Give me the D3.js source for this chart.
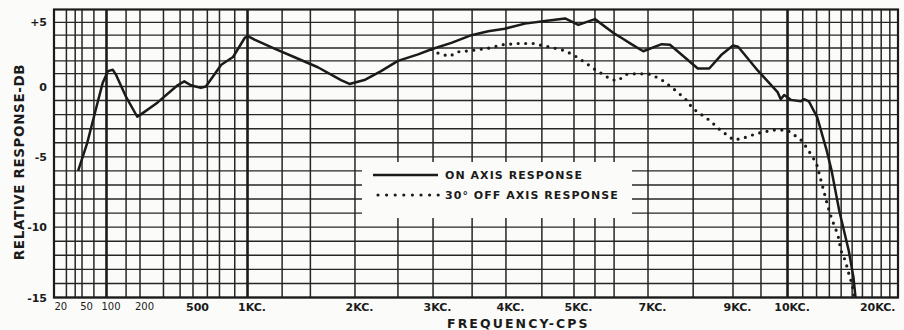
<!DOCTYPE html>
<html>
<head>
<meta charset="utf-8">
<script src="https://cdn.jsdelivr.net/npm/d3@7"></script>
<style>
  html, body { margin: 0; padding: 0; background: #fbfbf9; }
  svg { display: block; }
  text { font-family: "DejaVu Sans", "Liberation Sans", sans-serif; fill: #1b1b1b; }
</style>
</head>
<body>
<svg id="chart" width="904" height="330"></svg>
<script>
// ---- Response data (frequency in Hz, level in dB) ----
const onAxisFreq = [44, 58, 78, 90, 103, 114, 122, 149, 189, 202, 270, 383, 430, 482, 552, 589,
  716, 832, 966, 1005, 1046, 1190, 1350, 1574, 1828, 1930, 2100, 2290, 2500, 2776, 2976,
  3225, 3490, 3730, 3980, 4257, 4546, 4856, 5100, 5500, 6020, 6200, 6490, 6850, 7290, 7470,
  8110, 8390, 8690, 9000, 9090, 9440, 9810, 9870, 9935, 10210, 10870, 11100, 11430, 12050,
  12800, 13190, 13840, 14690, 15130, 15320];
const onAxisDb = [-6.0, -4.0, -1.1, 0.3, 1.2, 1.3, 0.9, -0.7, -2.15, -2.0, -1.15, 0.1, 0.4, 0.1, -0.1, 0.0,
  1.7, 2.3, 3.8, 3.9, 3.65, 2.95, 2.3, 1.5, 0.5, 0.2, 0.5, 1.2, 2.0, 2.5, 2.9,
  3.4, 4.0, 4.3, 4.5, 4.9, 5.1, 5.3, 4.8, 5.25, 4.1, 3.8, 3.3, 2.75, 3.3, 3.25,
  1.4, 1.4, 2.45, 3.2, 3.1, 1.25, -0.4, -0.9, -0.6, -0.95, -1.05, -0.9, -1.05, -2.2,
  -4.6, -6.0, -8.85, -11.7, -13.6, -15.0];

const offAxisFreq = [2976, 3060, 3200, 3310, 3490, 3750, 3930, 4160, 4375, 4495, 4640, 4850,
  5015, 5245, 5490, 5700, 5915, 6100, 6340, 6690, 7065, 7340, 7620, 7840, 7985, 8395, 8670,
  9010, 9155, 9420, 9720, 9990, 10380, 10930, 11175, 11400, 11640, 12000, 12370, 12620,
  12870, 13210, 13540, 13810, 13950, 14380, 14670, 14910, 15120, 15200];
const offAxisDb = [2.9, 2.6, 2.35, 2.7, 2.8, 3.0, 3.25, 3.35, 3.35, 3.2, 3.05, 2.8,
  2.4, 1.9, 1.35, 0.95, 0.55, 0.45, 0.95, 1.0, 0.95, 0.4, -0.35, -0.95, -1.55, -2.4, -3.1,
  -3.8, -3.7, -3.35, -3.1, -3.1, -3.4, -3.85, -4.2, -4.55, -4.9, -5.5, -6.8, -7.65,
  -8.5, -9.45, -10.15, -10.85, -11.6, -12.4, -13.25, -13.85, -14.55, -15.0];

// ---- Axis labels ----
const tickFreqs = [20, 50, 100, 200, 500, 1000, 2000, 3000, 4000, 5000, 7000, 9000, 10000, 20000];
const tickLabels = ["20", "50", "100", "200", "500", "1KC.", "2KC.", "3KC.", "4KC.", "5KC.",
  "7KC.", "9KC.", "10KC.", "20KC."];
const lightTicks = ["20", "50", "100", "200"];
const dbTicks = [5, 0, -5, -10, -15];
const dbTickLabels = ["+5", "0", "-5", "-10", "-15"];
const legendLabels = ["ON AXIS RESPONSE", "30° OFF AXIS RESPONSE"];
const xTitle = "FREQUENCY-CPS";
const yTitle = "RELATIVE RESPONSE-DB";

// ---- Chart paper rulings ----
const majorRulings = [100, 1000, 10000];
const minorRulings = [30, 40, 50, 70, 150, 200, 300, 400, 500, 600, 700, 850,
  1250, 1500, 2000, 2500, 3000, 3500, 4000, 4500, 5000, 5500, 6000, 7000, 8000, 9000, 9500,
  11000, 12000, 13000, 14000, 15000, 16000, 17000, 18000, 19000];
// The printed frequency paper is not a uniform log scale: each labelled
// frequency sits at its own fraction of the plot width.
const paperFreq = [20, 50, 100, 200, 500, 1000, 2000, 3000, 4000, 5000, 7000, 9000, 10000, 20000];
const paperFrac = [0, 0.0332, 0.0622, 0.1019, 0.1647, 0.2293, 0.3566, 0.4491, 0.5355, 0.6161,
  0.7038, 0.8045, 0.8691, 1];

const plot = { left: 54, right: 898, top: 9.5, bottom: 297.5 };
const pw = plot.right - plot.left;

const xLog = d3.scaleLinear()
  .domain(paperFreq.map(Math.log10))
  .range(paperFrac.map(f => plot.left + f * pw));
const x = f => xLog(Math.log10(f));
// dB paper: slightly tighter spacing above 0 dB
const y = d3.scaleLinear().domain([-15, 0, 6]).range([plot.bottom, 86.5, plot.top]);

const svg = d3.select("#chart");
const ink = "#1b1b1b";

// horizontal rulings, one per dB
svg.append("g").selectAll("line")
  .data(d3.range(-15, 6))
  .join("line")
  .attr("x1", plot.left).attr("x2", plot.right)
  .attr("y1", d => y(d)).attr("y2", d => y(d))
  .attr("stroke", "#262626").attr("stroke-width", 1.4);

// vertical rulings
svg.append("g").selectAll("line")
  .data(minorRulings)
  .join("line")
  .attr("x1", d => x(d)).attr("x2", d => x(d))
  .attr("y1", plot.top).attr("y2", plot.bottom)
  .attr("stroke", "#262626").attr("stroke-width", 1.5);

svg.append("g").selectAll("line")
  .data(majorRulings)
  .join("line")
  .attr("x1", d => x(d)).attr("x2", d => x(d))
  .attr("y1", plot.top).attr("y2", plot.bottom)
  .attr("stroke", ink).attr("stroke-width", 2.6);

// blank panel behind the legend
const legendBox = { x: 362, y: 162, w: 270, h: 56 };
svg.append("rect")
  .attr("x", legendBox.x).attr("y", legendBox.y)
  .attr("width", legendBox.w).attr("height", legendBox.h)
  .attr("fill", "#fbfbf9");

// frame
svg.append("rect")
  .attr("x", plot.left).attr("y", plot.top)
  .attr("width", pw).attr("height", plot.bottom - plot.top)
  .attr("fill", "none").attr("stroke", ink).attr("stroke-width", 2.2);

// response curves
const line = d3.line().x(d => x(d[0])).y(d => y(d[1]));
const onAxis = onAxisFreq.map((f, i) => [f, onAxisDb[i]]);
const offAxis = offAxisFreq.map((f, i) => [f, offAxisDb[i]]);

svg.append("path")
  .datum(offAxis)
  .attr("d", line)
  .attr("fill", "none").attr("stroke", ink)
  .attr("stroke-width", 3.2).attr("stroke-linecap", "round")
  .attr("stroke-dasharray", "0 7.5");

svg.append("path")
  .datum(onAxis)
  .attr("d", line)
  .attr("fill", "none").attr("stroke", ink)
  .attr("stroke-width", 2.5).attr("stroke-linejoin", "round");

// legend
const lg = svg.append("g");
lg.append("line").attr("x1", 373).attr("x2", 438).attr("y1", 175).attr("y2", 175)
  .attr("stroke", ink).attr("stroke-width", 2.6);
lg.append("line").attr("x1", 378).attr("x2", 439).attr("y1", 195).attr("y2", 195)
  .attr("stroke", ink).attr("stroke-width", 3.2).attr("stroke-linecap", "round")
  .attr("stroke-dasharray", "0 8.6");
lg.selectAll("text").data(legendLabels).join("text")
  .attr("x", 445).attr("y", (d, i) => 179 + i * 20)
  .attr("font-size", 11).attr("font-weight", "bold").attr("letter-spacing", 1.05)
  .text(d => d);

// frequency axis labels
const xAxis = d3.axisBottom(xLog)
  .tickValues(tickFreqs.map(Math.log10))
  .tickFormat((d, i) => tickLabels[i])
  .tickSize(0).tickPadding(5.5);
const gx = svg.append("g").attr("transform", `translate(0,${plot.bottom})`).call(xAxis);
gx.select(".domain").remove();
gx.selectAll("text")
  .attr("fill", ink)
  .style("font-family", "'DejaVu Sans', sans-serif")
  .attr("font-size", (d, i) => lightTicks.includes(tickLabels[i]) ? 10 : 11)
  .attr("font-weight", (d, i) => lightTicks.includes(tickLabels[i]) ? "normal" : "bold")
  .attr("text-anchor", (d, i) => i === 0 ? "start" : (i === tickLabels.length - 1 ? "end" : "middle"))
  .attr("dx", (d, i) => i === 0 ? 0 : (i === tickLabels.length - 1 ? -3 : 4));

// level axis labels
const yAxis = d3.axisLeft(y).tickValues(dbTicks)
  .tickFormat((d, i) => dbTickLabels[i]).tickSize(0).tickPadding(7);
const gy = svg.append("g").attr("transform", `translate(${plot.left},0)`).call(yAxis);
gy.select(".domain").remove();
gy.selectAll("text")
  .attr("fill", ink)
  .style("font-family", "'DejaVu Sans', sans-serif")
  .attr("font-size", 11).attr("font-weight", "bold");

// titles
svg.append("text")
  .attr("x", 447).attr("y", 328)
  .attr("font-size", 12.5).attr("font-weight", "bold").attr("letter-spacing", 2.1)
  .text(xTitle);
svg.append("text")
  .attr("transform", "translate(24,162) rotate(-90)")
  .attr("text-anchor", "middle")
  .attr("font-size", 13.5).attr("font-weight", "bold").attr("letter-spacing", 0.6)
  .text(yTitle);
</script>
</body>
</html>
